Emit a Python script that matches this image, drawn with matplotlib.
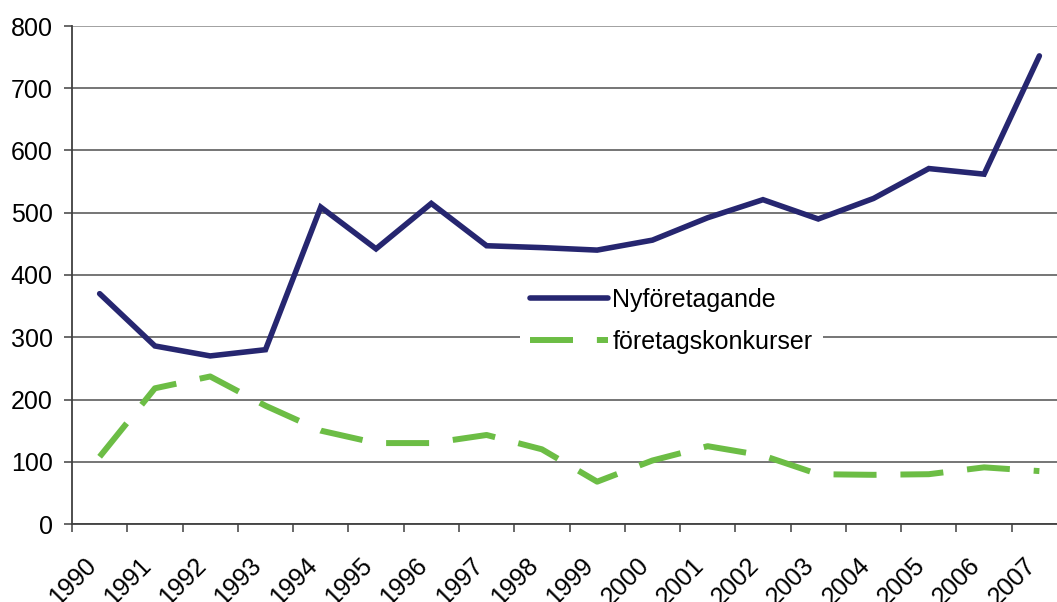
import numpy as np
import matplotlib
matplotlib.use('Agg')
import matplotlib.pyplot as plt
import matplotlib.transforms as mtransforms
plt.rcParams['font.family'] = 'Liberation Sans'
plt.rcParams['font.size'] = 18

years = ['1990', '1991', '1992', '1993', '1994', '1995', '1996', '1997', '1998',
         '1999', '2000', '2001', '2002', '2003', '2004', '2005', '2006', '2007']
nyforetagande = [370, 286, 270, 280, 509, 442, 515, 447, 444, 440,
                 456, 492, 521, 490, 523, 571, 562, 752]
konkurser = [108, 218, 237, 190, 150, 130, 130, 143, 120, 68,
             102, 125, 110, 80, 79, 80, 91, 85]

W, H = 1057, 602
fig = plt.figure(figsize=(W / 100, H / 100), dpi=100)
# plot area runs a little past the right edge, like the cropped original
ax = fig.add_axes([72 / W, 1 - 524 / H, 995 / W, 498 / H])

x = np.arange(len(years))
ax.plot(x, nyforetagande, color='#262670', lw=4, solid_capstyle='round',
        solid_joinstyle='miter', label='Nyföretagande', zorder=3)
ax.plot(x, konkurser, color='#6cbd45', lw=4.3, dashes=(7.2, 4),
        dash_capstyle='butt', label='företagskonkurser', zorder=3)

ax.set_xlim(-0.5, len(years) - 0.5)
ax.set_ylim(0, 800)
ax.set_yticks(range(0, 801, 100))
ax.yaxis.grid(True, color='#505050', lw=1.1)
ax.get_ygridlines()[-1].set_color('#888888')
ax.set_axisbelow(True)
for s in ['top', 'right']:
    ax.spines[s].set_visible(False)
for s in ['left', 'bottom']:
    ax.spines[s].set_color('#404040')
    ax.spines[s].set_linewidth(1.3)

ax.tick_params(axis='y', direction='out', length=6, width=1.1, color='#404040', pad=8)
ax.set_xticks(x)
ax.set_xticklabels(years, rotation=45, ha='right', va='top', rotation_mode='anchor')
ax.tick_params(axis='x', which='major', length=0, pad=0)
ax.set_xticks(np.arange(-0.5, len(years), 1.0), minor=True)
ax.tick_params(axis='x', which='minor', direction='out', length=6, width=1.1, color='#404040')
offset = mtransforms.ScaledTranslation(-0.16, -0.29, fig.dpi_scale_trans)
for lab in ax.get_xticklabels():
    lab.set_transform(lab.get_transform() + offset)

leg = ax.legend(loc='upper left', bbox_to_anchor=(520 / W, 1 - 278 / H),
                bbox_transform=fig.transFigure, borderaxespad=0,
                handlelength=3.1, handletextpad=0.2, labelspacing=0.7,
                borderpad=0.4, fancybox=False, framealpha=1,
                facecolor='white', edgecolor='none')

plt.savefig('out.png', dpi=100)
